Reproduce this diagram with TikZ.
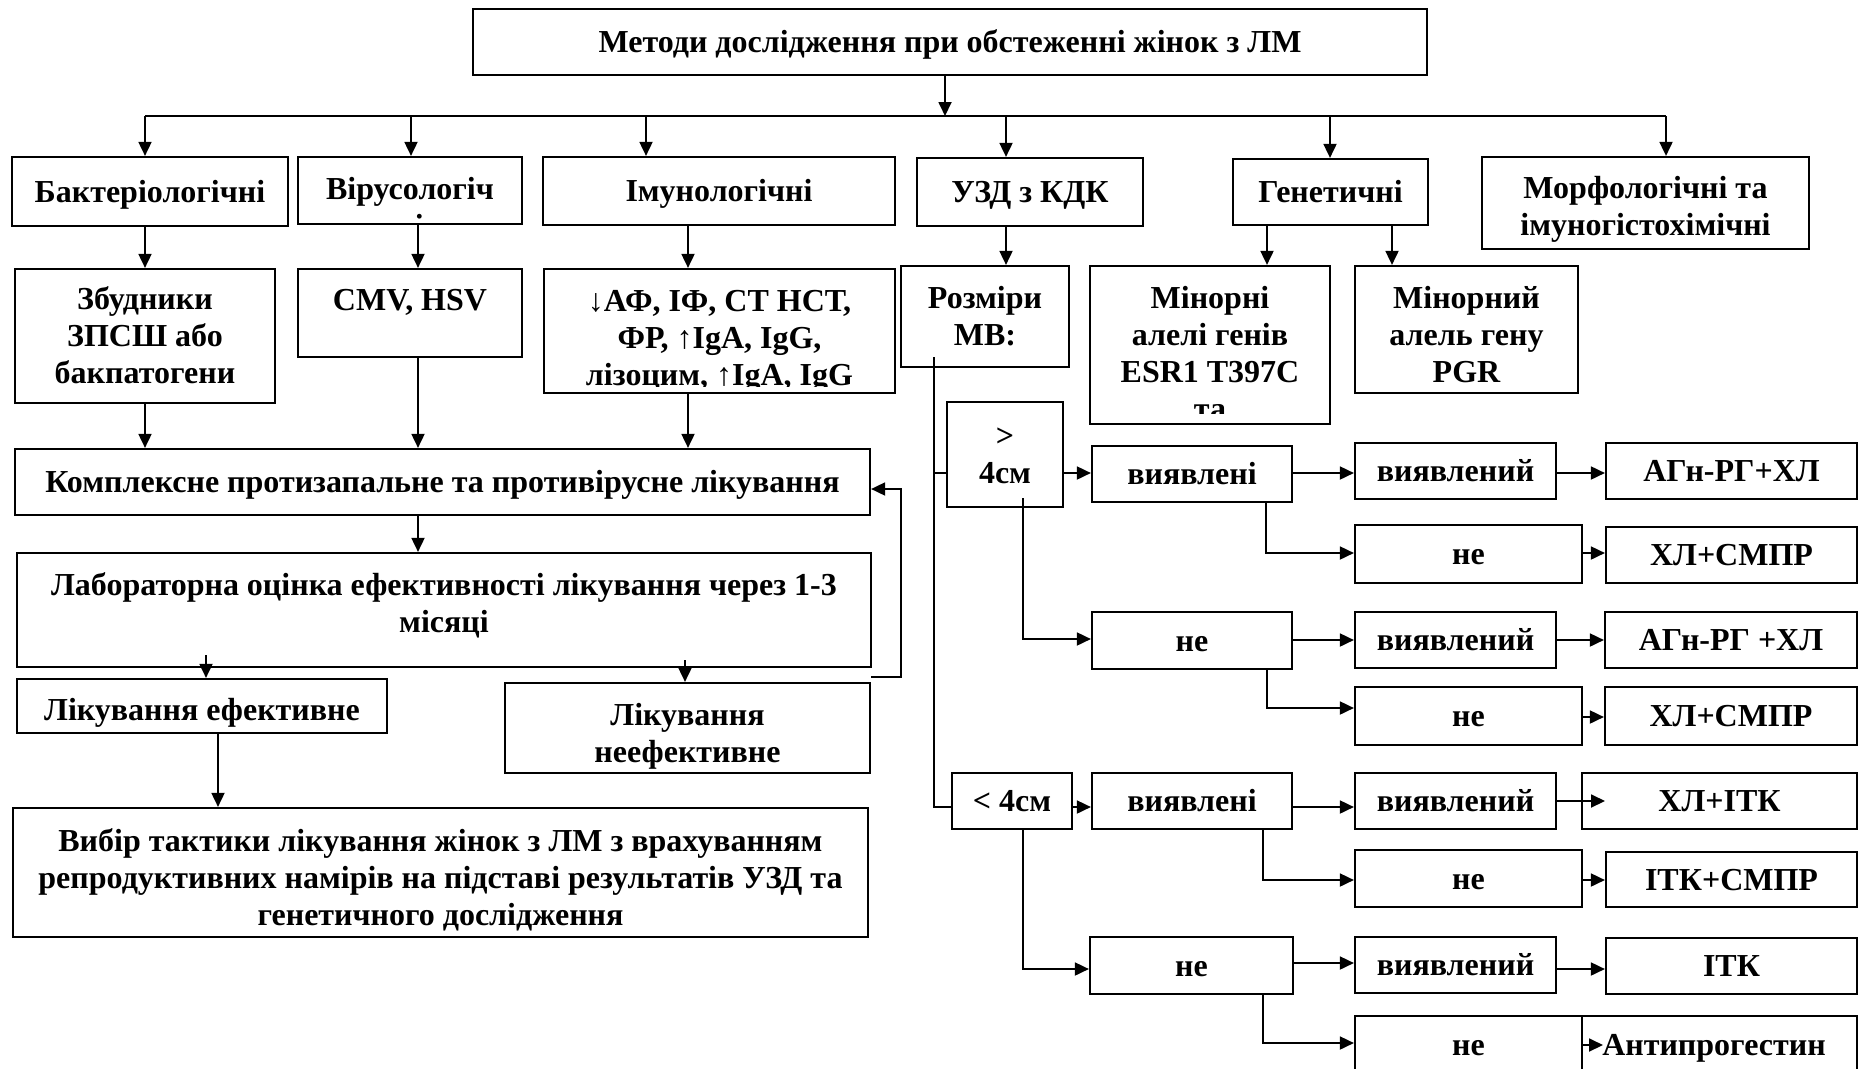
\documentclass[tikz,border=0pt]{standalone}
\usepackage{fontspec}
\setmainfont{Liberation Serif}
\usetikzlibrary{arrows.meta}
\newcommand\sr{\rule[-8pt]{0pt}{37pt}}
\newcommand\tx[1]{\sr#1\sr}
\newcommand\mybox[6]{\node[box,minimum width={(#4)-(#2)},minimum height={(#5)-(#3)}] (#1) at ({((#2)+(#4))/2},{((#3)+(#5))/2}) {#6};}
\tikzset{
  fnt/.style={font=\bfseries\fontsize{32}{37}\selectfont},
  box/.style={draw,line width=2.2pt,inner sep=0pt,align=center,fnt},
  txt/.style={inner sep=0pt,align=center,fnt},
  ln/.style={line width=1.8pt},
  arr/.style={line width=1.8pt,-{Triangle[length=14pt,width=13pt]}},
}
\begin{document}
\begin{tikzpicture}[x=1pt,y=-1pt]
\useasboundingbox (0,0) rectangle (1867,1068);
\clip (0,0) rectangle (1867,1068);
\fill[white] (0,0) rectangle (1867,1068);
% top
\mybox{title}{473}{9}{1427}{75}{\tx{Методи дослідження при обстеженні жінок з ЛМ}}
% row 2
\mybox{bak}{12}{157}{288}{226}{\tx{Бактеріологічні}}
\mybox{viru}{298}{157}{522}{224}{}
\mybox{imu}{543}{157}{895}{225}{\tx{Імунологічні}}
\mybox{uzd}{917}{158}{1143}{226}{\tx{УЗД з КДК}}
\mybox{gen}{1233}{159}{1428}{225}{\tx{Генетичні}}
\mybox{morf}{1482}{157}{1809}{249}{}
\node[txt] (tmorf) at (1645.5,206.5) {\tx{Морфологічні та\\імуногістохімічні}};
\begin{scope}
\clip (298,157) rectangle (522,218);
\node[txt] (tviru) at (410,207) {\tx{Вірусологіч\\ні}};
\end{scope}
% row 3
\mybox{zb}{15}{269}{275}{403}{\tx{Збудники\\ЗПСШ або\\бакпатогени}}
\mybox{cmv}{298}{269}{522}{357}{}
\node[txt] (tcmv) at (410,300) {\tx{CMV, HSV}};
\mybox{imm}{544}{269}{895}{393}{}
\begin{scope}
\clip (544,269) rectangle (895,386);
\node[txt] (timm) at (719.5,337.5) {\tx{↓АФ, ІФ, СТ НСТ,\\ФР, ↑IgA, IgG,\\лізоцим, ↑IgA, IgG}};
\end{scope}
\mybox{roz}{901}{266}{1069}{367}{\tx{Розміри\\МВ:}}
\mybox{min1}{1090}{266}{1330}{424}{}
\begin{scope}
\clip (1090,266) rectangle (1330,413);
\node[txt] (tmin1) at (1210,353) {\tx{Мінорні\\алелі генів\\ESR1 T397C\\та}};
\end{scope}
\mybox{min2}{1355}{266}{1578}{393}{}
\node[txt] (tmin2) at (1466.5,334.5) {\tx{Мінорний\\алель гену\\PGR}};
% left lower
\mybox{kom}{15}{449}{870}{515}{\tx{Комплексне протизапальне та противірусне лікування}}
\mybox{lab}{17}{553}{871}{667}{}
\node[txt] (tlab) at (444,603.5) {\tx{Лабораторна оцінка ефективності лікування через 1-3\\місяці}};
\mybox{ef}{17}{679}{387}{733}{}
\node[txt] (tef) at (202,710) {\tx{Лікування ефективне}};
\mybox{neef}{505}{683}{870}{773}{}
\node[txt] (tneef) at (687.5,733) {\tx{Лікування\\неефективне}};
\mybox{vyb}{13}{808}{868}{937}{}
\node[txt] (tvyb) at (440.5,877.5) {\tx{Вибір тактики лікування жінок з ЛМ з врахуванням\\репродуктивних намірів на підставі результатів УЗД та\\генетичного дослідження}};
% right tree
\mybox{gt4}{947}{402}{1063}{507}{\tx{>\\4см}}
\mybox{v1}{1092}{446}{1292}{502}{\tx{виявлені}}
\mybox{d1}{1355}{443}{1556}{499}{\tx{виявлений}}
\mybox{a1}{1606}{443}{1857}{499}{\tx{АГн-РГ+ХЛ}}
\mybox{n1}{1355}{525}{1582}{583}{\tx{не}}
\mybox{r1}{1606}{527}{1857}{583}{\tx{ХЛ+СМПР}}
\mybox{n2}{1092}{612}{1292}{669}{\tx{не}}
\mybox{d2}{1355}{612}{1556}{668}{\tx{виявлений}}
\mybox{a2}{1605}{612}{1857}{668}{\tx{АГн-РГ +ХЛ}}
\mybox{n3}{1355}{687}{1582}{745}{\tx{не}}
\mybox{r2}{1605}{687}{1857}{745}{\tx{ХЛ+СМПР}}
\mybox{lt4}{952}{773}{1072}{829}{\tx{< 4см}}
\mybox{v3}{1092}{773}{1292}{829}{\tx{виявлені}}
\mybox{d3}{1355}{773}{1556}{829}{\tx{виявлений}}
\mybox{r3}{1582}{773}{1857}{829}{\tx{ХЛ+ІТК}}
\mybox{n4}{1355}{850}{1582}{907}{\tx{не}}
\mybox{r4}{1606}{852}{1857}{907}{\tx{ІТК+СМПР}}
\mybox{n5}{1090}{937}{1293}{994}{\tx{не}}
\mybox{d5}{1355}{937}{1556}{993}{\tx{виявлений}}
\mybox{r5}{1606}{938}{1857}{994}{\tx{ІТК}}
\mybox{n6}{1355}{1016}{1582}{1074}{\tx{не}}
\mybox{r6}{1582}{1016}{1857}{1074}{}
\node[txt] (tr6) at (1714,1045) {\tx{Антипрогестин}};
% coordinates
\coordinate (hub) at (945,116);
\coordinate (hl) at (145,116);
\coordinate (hr) at (1666,116);
\coordinate (labA) at (206,655);
\coordinate (labB) at (685,660);
\coordinate (rzs) at (934,357);
\coordinate (g4s) at (1023,498);
\coordinate (r3in) at (1605,801);
\coordinate (r6in) at (1603,1045);
% top connectors
\draw[arr] (title.south -| hub) -- (hub);
\draw[ln] (hl) -- (hr);
\foreach \x/\n in {145/bak,411/viru,646/imu,1006/uzd,1330/gen,1666/morf}
  \draw[arr] (\x,116) -- (\x,0 |- \n.north);
\draw[arr] (145,0 |- bak.south) -- (145,0 |- zb.north);
\draw[arr] (418,0 |- viru.south) -- (418,0 |- cmv.north);
\draw[arr] (688,0 |- imu.south) -- (688,0 |- imm.north);
\draw[arr] (1006,0 |- uzd.south) -- (1006,0 |- roz.north);
\draw[arr] (1267,0 |- gen.south) -- (1267,0 |- min1.north);
\draw[arr] (1392,0 |- gen.south) -- (1392,0 |- min2.north);
\draw[arr] (145,0 |- zb.south) -- (145,0 |- kom.north);
\draw[arr] (418,0 |- cmv.south) -- (418,0 |- kom.north);
\draw[arr] (688,0 |- imm.south) -- (688,0 |- kom.north);
\draw[arr] (418,0 |- kom.south) -- (418,0 |- lab.north);
\draw[arr] (labA) -- (labA |- ef.north);
\draw[arr] (labB) -- (labB |- neef.north);
\draw[arr] (218,0 |- ef.south) -- (218,0 |- vyb.north);
\draw[arr] (neef.north east |- 0,677) -- (901,677) -- (901,489) -- (kom.east |- 0,489);
% right connectors
\draw[ln] (rzs) -- (934,807) -- (lt4.west |- 0,807);
\draw[ln] (934,473) -- (gt4.west |- 0,473);
\draw[arr] (gt4.east |- 0,473) -- (v1.west |- 0,473);
\draw[arr] (v1.east |- 0,473) -- (d1.west |- 0,473);
\draw[arr] (d1.east |- 0,473) -- (a1.west |- 0,473);
\draw[arr] (1266,0 |- v1.south) -- (1266,553) -- (n1.west |- 0,553);
\draw[arr] (n1.east |- 0,553) -- (r1.west |- 0,553);
\draw[arr] (g4s) -- (1023,639) -- (n2.west |- 0,639);
\draw[arr] (n2.east |- 0,640) -- (d2.west |- 0,640);
\draw[arr] (d2.east |- 0,640) -- (a2.west |- 0,640);
\draw[arr] (1267,0 |- n2.south) -- (1267,708) -- (n3.west |- 0,708);
\draw[arr] (n3.east |- 0,717) -- (r2.west |- 0,717);
\draw[arr] (lt4.east |- 0,807) -- (v3.west |- 0,807);
\draw[arr] (v3.east |- 0,807) -- (d3.west |- 0,807);
\draw[arr] (d3.east |- 0,801) -- (r3in);
\draw[arr] (1263,0 |- v3.south) -- (1263,880) -- (n4.west |- 0,880);
\draw[arr] (n4.east |- 0,880) -- (r4.west |- 0,880);
\draw[arr] (1023,0 |- lt4.south) -- (1023,969) -- (n5.west |- 0,969);
\draw[arr] (n5.east |- 0,963) -- (d5.west |- 0,963);
\draw[arr] (d5.east |- 0,969) -- (r5.west |- 0,969);
\draw[arr] (1263,0 |- n5.south) -- (1263,1043) -- (n6.west |- 0,1043);
\draw[arr] (n6.east |- 0,1045) -- (r6in);
\end{tikzpicture}
\end{document}
